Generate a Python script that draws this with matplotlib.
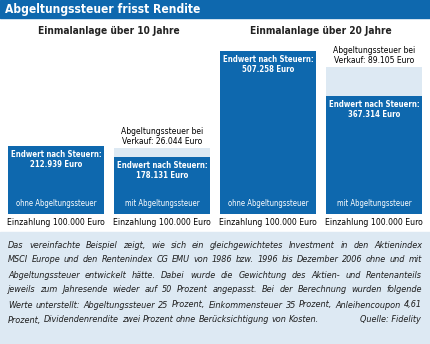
import matplotlib.pyplot as plt
from matplotlib import font_manager as fm
from matplotlib.patches import Rectangle
from matplotlib.transforms import blended_transform_factory

# Daten
gruppen = ["Einmalanlage über 10 Jahre", "Einmalanlage über 20 Jahre"]
endwert = [212939, 178131, 507258, 367314]
steuer = [0, 26044, 0, 89105]
art = ["ohne Abgeltungssteuer", "mit Abgeltungssteuer",
       "ohne Abgeltungssteuer", "mit Abgeltungssteuer"]
einzahlung = [100000, 100000, 100000, 100000]

fussnote = [
    "Das vereinfachte Beispiel zeigt, wie sich ein gleichgewichtetes Investment in den Aktienindex",
    "MSCI Europe und den Rentenindex CG EMU  von 1986 bzw. 1996 bis Dezember 2006 ohne und mit",
    "Abgeltungssteuer entwickelt hätte. Dabei wurde die Gewichtung des Aktien- und Rentenanteils",
    "jeweils zum Jahresende wieder auf 50 Prozent angepasst. Bei der Berechnung wurden folgende",
    "Werte unterstellt: Abgeltungssteuer 25 Prozent, Einkommensteuer 35 Prozent, Anleihencoupon 4,61",
    "Prozent, Dividendenrendite zwei Prozent ohne Berücksichtigung von Kosten.",
]
quelle = "Quelle: Fidelity"

blau = "#0e68ae"
hellblau = "#dde9f3"

# schmale Schrift suchen (falls vorhanden)
schmal = dict(family=["Liberation Sans"])
pfad = fm.findfont(fm.FontProperties(family="DejaVu Sans", stretch="condensed"))
if "Condensed" in pfad:
    schmal = dict(family=["DejaVu Sans"], stretch="condensed")
else:
    try:
        fm.findfont(fm.FontProperties(family="Liberation Sans Narrow"),
                    fallback_to_default=False)
        schmal = dict(family=["Liberation Sans Narrow"])
    except ValueError:
        pass


def euro(v):
    return f"{v:,}".replace(",", ".")


W, H = 430, 344
fig = plt.figure(figsize=(W / 100, H / 100), dpi=100)
renderer = fig.canvas.get_renderer()


def fx(x):
    return x / W


def fy(y):
    return 1 - y / H


def breite(t):
    return t.get_window_extent(renderer).width


def anpassen(t, ziel):
    # Schriftgröße so setzen, dass der Text die Zielbreite (px) hat
    t.set_fontsize(t.get_fontsize() * ziel / breite(t))
    return t.get_fontsize()


# Titelbalken und Fußnotenhintergrund
fig.patches.append(Rectangle((0, fy(18)), 1, 18 / H, transform=fig.transFigure,
                             color=blau, zorder=0))
fig.patches.append(Rectangle((0, 0), 1, fy(232), transform=fig.transFigure,
                             color=hellblau, zorder=0))
t = fig.text(fx(5), fy(9.5), "Abgeltungssteuer frisst Rendite", color="white",
             fontsize=10, fontweight="bold", va="center", **schmal)
anpassen(t, 194)

# Balken
ax = fig.add_axes([0, fy(214), 1, (214 - 40) / H])
x = list(range(len(endwert)))
ax.bar(x, endwert, width=0.9, color=blau, linewidth=0)
ax.bar(x, steuer, width=0.9, bottom=endwert, color=hellblau, linewidth=0)
ax.set_xlim(-0.53, 3.53)
ax.set_ylim(0, 541500)
ax.axis("off")

px = 0.72  # pixel -> punkte
art_fs = None
for i in x:
    t = ax.annotate(f"Endwert nach Steuern:\n{euro(endwert[i])} Euro", (i, endwert[i]),
                    xytext=(0, -4 * px), textcoords="offset points", ha="center",
                    va="top", color="white", fontsize=6.5, fontweight="bold",
                    linespacing=1.15, **schmal)
    anpassen(t, 90)
    t = ax.annotate(art[i], (i, 0), xytext=(0, 11 * px), textcoords="offset points",
                    ha="center", va="center", color="white", fontsize=6, **schmal)
    if art_fs is None:
        art_fs = anpassen(t, 81)
    t.set_fontsize(art_fs)
    t = ax.annotate(f"Einzahlung {euro(einzahlung[i])} Euro", (i, 0),
                    xytext=(0, -8.5 * px), textcoords="offset points", ha="center",
                    va="center", color="black", fontsize=6.5,
                    annotation_clip=False, **schmal)
    anpassen(t, 96)
    if steuer[i]:
        t = ax.annotate(f"Abgeltungssteuer bei\nVerkauf: {euro(steuer[i])} Euro",
                        (i, endwert[i] + steuer[i]), xytext=(0, 2.5 * px),
                        textcoords="offset points", ha="center", va="bottom",
                        color="black", fontsize=6.5, linespacing=1.1, **schmal)
        anpassen(t, 82)

trans = blended_transform_factory(ax.transData, fig.transFigure)
for k, g in enumerate(gruppen):
    t = ax.text(2 * k + 0.5, fy(31.5), g, transform=trans, ha="center", va="center",
                fontsize=8, fontweight="bold", color="#222222", **schmal)
    anpassen(t, 143)

# Fußnote im Blocksatz
fuss = dict(style="italic", color="#1e1e1e", va="center", family=["DejaVu Sans"])
mess = fig.text(0, 0, "", fontsize=6.3, **fuss)


def laenge(s):
    mess.set_text(s)
    return breite(mess)


fs = 6.3 * 410 / max(laenge(z) for z in fussnote)
mess.set_fontsize(fs)
for j, zeile in enumerate(fussnote):
    y = fy(245 + 15 * j)
    woerter = zeile.split()
    voll = laenge(" ".join(woerter))
    extra = (414 - voll) / (len(woerter) - 1) if j < len(fussnote) - 1 else 0
    for k, wort in enumerate(woerter):
        if k == 0:
            xp = 0
        else:
            xp = laenge(" ".join(woerter[:k + 1])) - laenge(wort)
        fig.text(fx(8 + xp + k * extra), y, wort, fontsize=fs, **fuss)
mess.remove()
fig.text(fx(421), fy(245 + 15 * 5), quelle, fontsize=fs, ha="right", **fuss)

fig.savefig("out.png", dpi=100)
